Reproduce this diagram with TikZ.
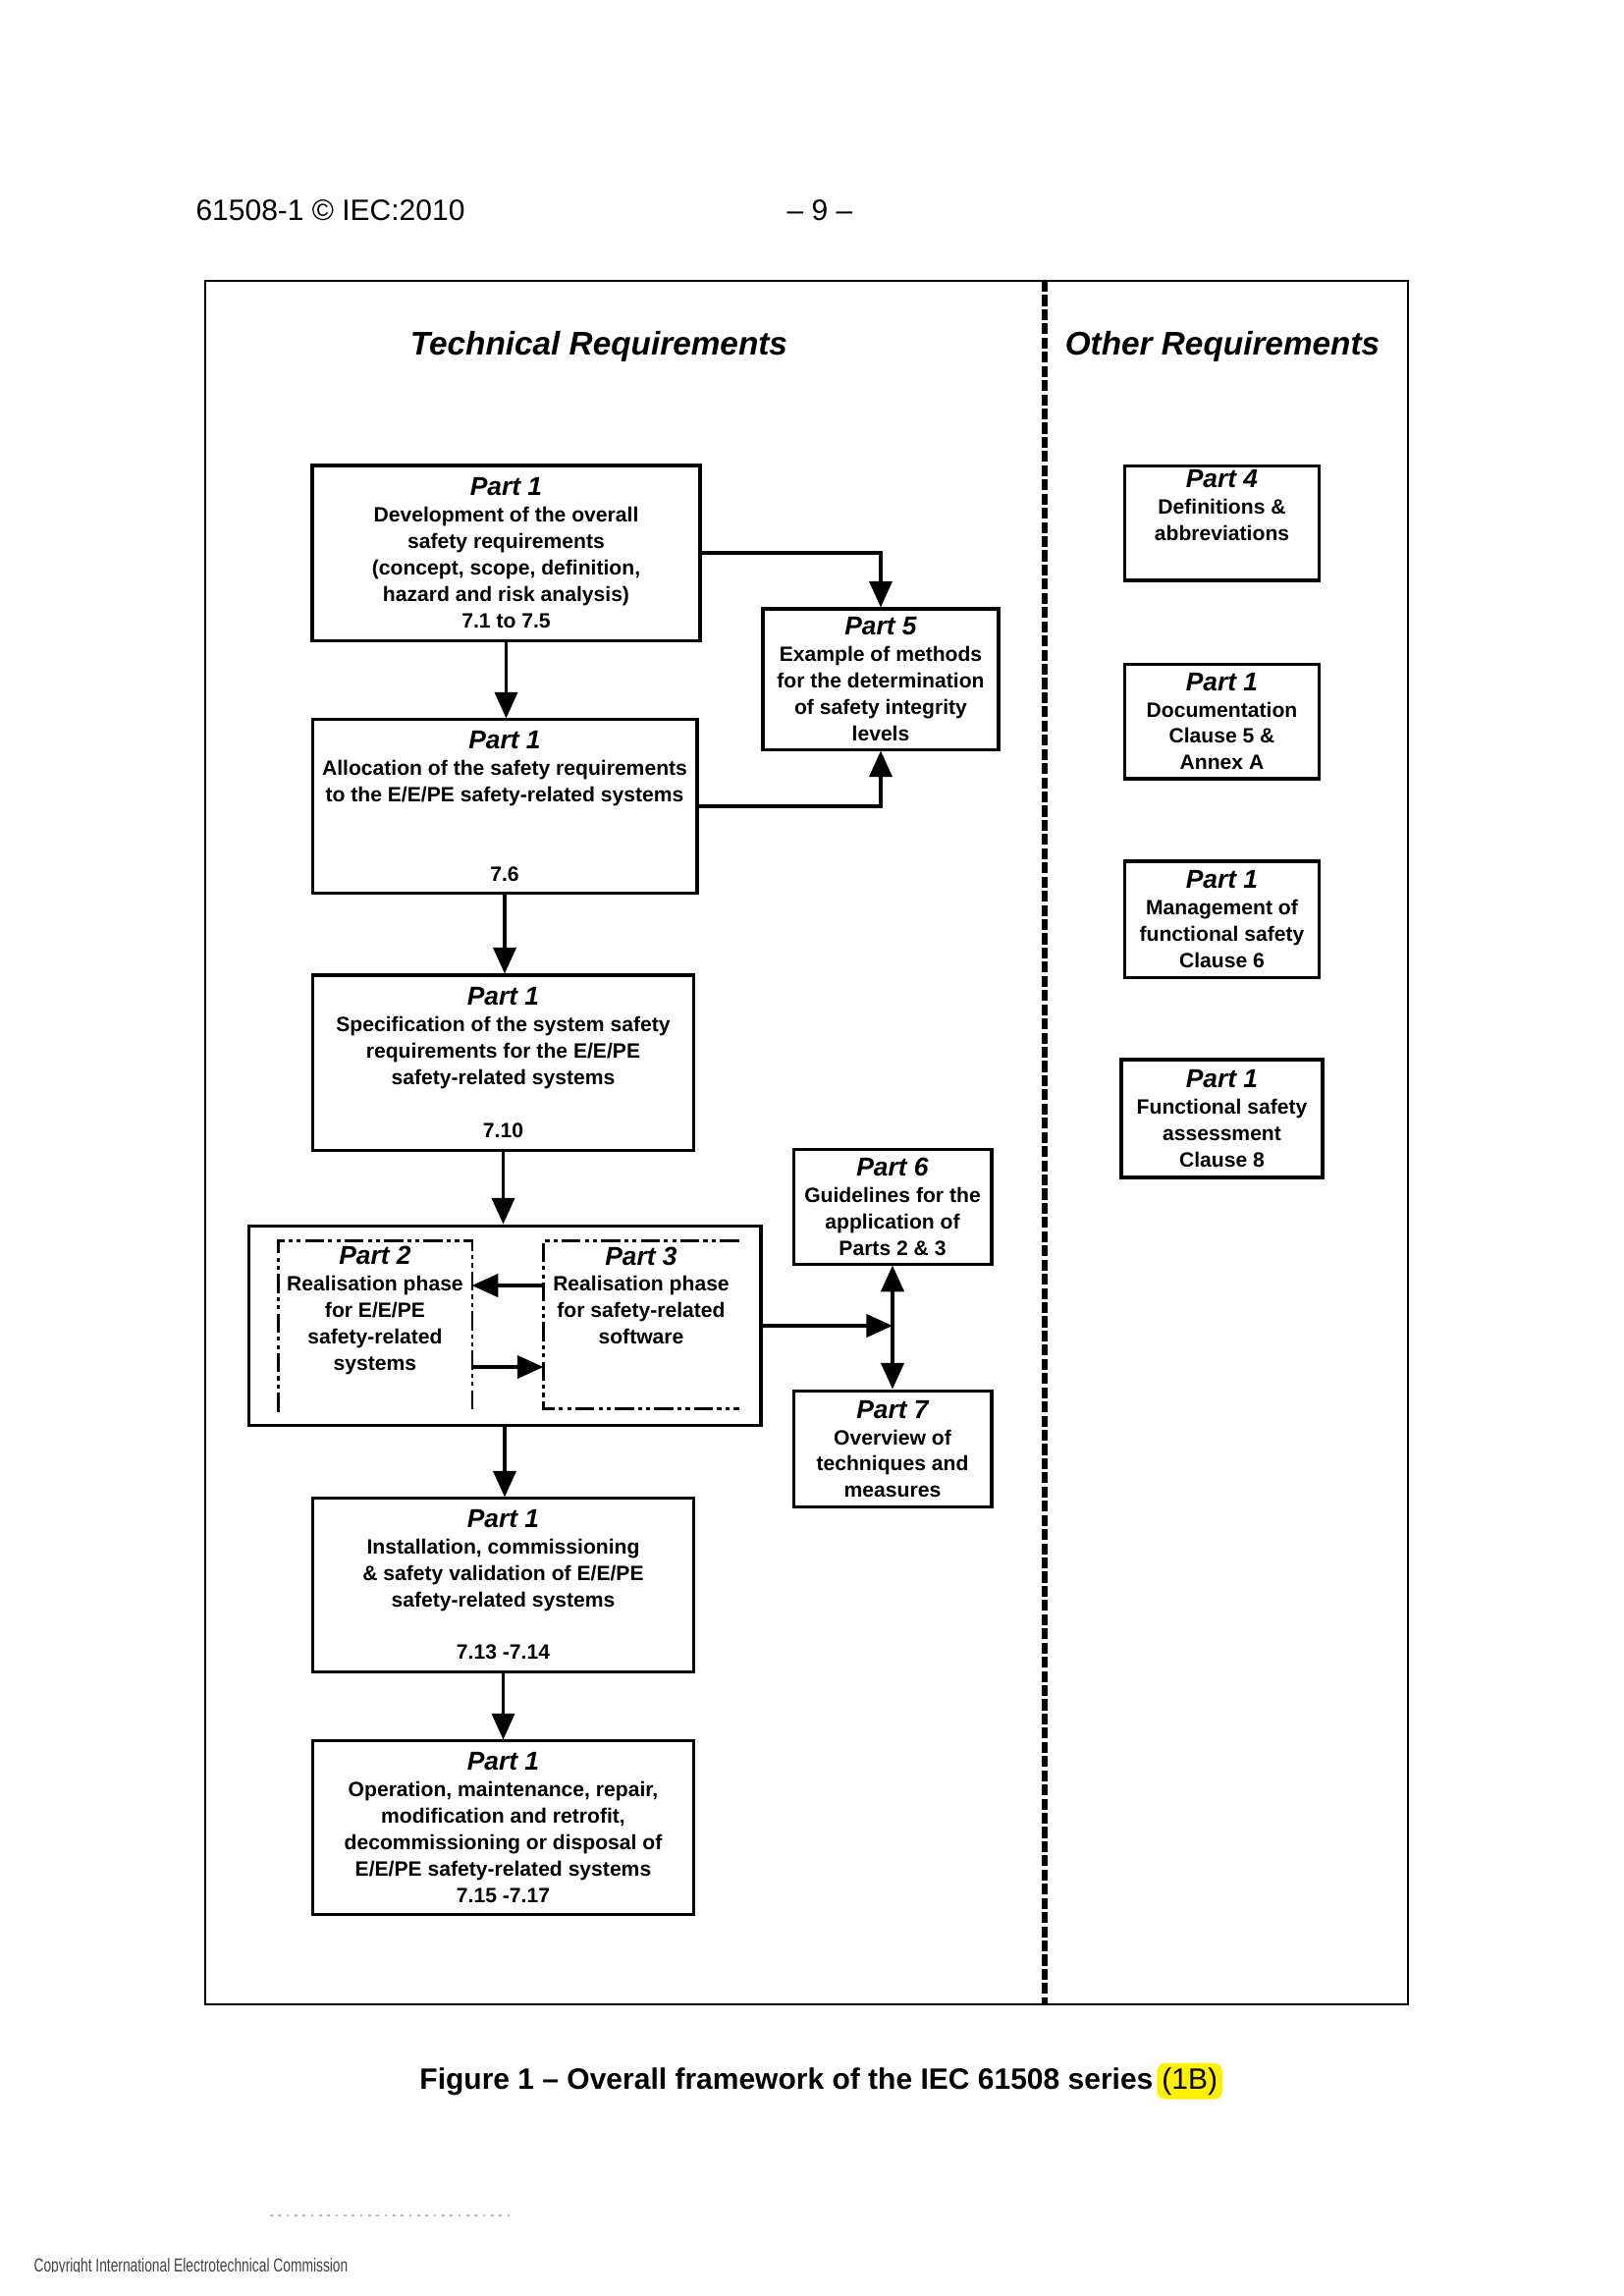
\documentclass[tikz,border=0pt]{standalone}
\usepackage{fontspec}
\setmainfont{Liberation Sans}
\usetikzlibrary{arrows.meta,calc}
\newcommand{\boxfont}{\fontsize{7.6}{9.65}\selectfont\bfseries}
\newcommand{\parthead}[1]{{\fontsize{9.5}{9.65}\selectfont\bfseries\itshape #1}}
\definecolor{hilite}{RGB}{255,240,0}
\begin{document}
\begin{tikzpicture}[x=0.36pt,y=-0.36pt,
  box/.style={draw, line width=1.1pt, align=center, inner sep=0pt, font=\boxfont},
  region/.style={inner sep=0pt},
  boxtext/.style={align=center, inner sep=0pt, font=\boxfont, anchor=north},
  conn/.style={line width=1.1pt, -{Triangle[width=8.4pt,length=9.6pt]}},
  conn2/.style={line width=1.1pt, {Triangle[width=8.4pt,length=9.6pt]}-{Triangle[width=8.4pt,length=9.6pt]}},
  dashdot/.style={line width=0.8pt, dash pattern=on 7pt off 1.5pt on 1.5pt off 1.5pt on 1.5pt off 1.5pt},
  sepline/.style={line width=2pt, dash pattern=on 4pt off 1.2pt},
  title/.style={font=\fontsize{12}{14}\selectfont\bfseries\itshape, anchor=base}]
\useasboundingbox (0,0) rectangle (1653,2338);

% header
\node[anchor=base west, font=\fontsize{10.8}{13}\selectfont, inner sep=0pt] (hdrL) at (199,224) {61508-1 © IEC:2010};
\node[anchor=base, font=\fontsize{10.8}{13}\selectfont, inner sep=0pt] (hdrC) at (835,224) {– 9 –};

% frame and separator
\draw[line width=1pt] (209,286) rectangle (1434,2041);
\coordinate (sepT) at (1064,286);
\coordinate (sepB) at (1064,2041);
\draw[sepline] (sepT) -- (sepB);

% titles
\node[title] (tTech) at (610,361) {Technical Requirements};
\node[title] (tOther) at (1245,361) {Other Requirements};

% technical boxes
\node[box, minimum width=142.2pt, minimum height=64.1pt] (p1a) at (515.5,563)
  {\parthead{Part 1}\\Development of the overall\\safety requirements\\(concept, scope, definition,\\hazard and risk analysis)\\7.1 to 7.5};
\node[box, minimum width=86.4pt, minimum height=51.5pt] (p5) at (897,691.5)
  {\parthead{Part 5}\\Example of methods\\for the determination\\of safety integrity\\levels};
\node[box, minimum width=141.1pt, minimum height=63.4pt] (p1b) at (514,821)
  {\parthead{Part 1}\\Allocation of the safety requirements\\to the E/E/PE safety-related systems\\[19.3pt]7.6};
\node[box, minimum width=140pt, minimum height=64.1pt] (p1c) at (512.5,1082)
  {\parthead{Part 1}\\Specification of the system safety\\requirements for the E/E/PE\\safety-related systems\\[9.65pt]7.10};
\node[draw, line width=1.1pt, inner sep=0pt, minimum width=187.9pt, minimum height=73.4pt] (real) at (514,1350) {};
\node[region, minimum width=70.6pt, minimum height=62.3pt] (p2) at (382,1350.5) {};
\node[region, minimum width=71.3pt, minimum height=61.2pt] (p3) at (653,1349) {};
\node[boxtext] (p2t) at ([yshift=-2pt]p2.north) {\parthead{Part 2}\\Realisation phase\\for E/E/PE\\safety-related\\systems};
\node[boxtext] (p3t) at ([yshift=-2pt]p3.north) {\parthead{Part 3}\\Realisation phase\\for safety-related\\software};
\draw[dashdot] (p2.south west) -- (p2.north west) -- (p2.north east) -- (p2.south east);
\draw[dashdot] (p3.north east) -- (p3.north west) -- (p3.south west) -- (p3.south east);

\node[box, minimum width=72.7pt, minimum height=41.8pt] (p6) at (909,1229)
  {\parthead{Part 6}\\Guidelines for the\\application of\\Parts 2 \& 3};
\node[box, minimum width=72.7pt, minimum height=42.8pt] (p7) at (909,1475.5)
  {\parthead{Part 7}\\Overview of\\techniques and\\measures};
\node[box, minimum width=140pt, minimum height=63.4pt] (p1d) at (512.5,1614)
  {\parthead{Part 1}\\Installation, commissioning\\\& safety validation of E/E/PE\\safety-related systems\\[9.65pt]7.13 -7.14};
\node[box, minimum width=140pt, minimum height=63.4pt] (p1e) at (512.5,1861)
  {\parthead{Part 1}\\Operation, maintenance, repair,\\modification and retrofit,\\decommissioning or disposal of\\E/E/PE safety-related systems\\7.15 -7.17};

% other requirements
\node[box, minimum width=71.6pt, minimum height=42.1pt] (p4) at (1244.5,532.5) {};
\node[boxtext] (p4t) at ([yshift=-2pt]p4.north) {\parthead{Part 4}\\Definitions \&\\abbreviations};
\node[box, minimum width=71.6pt, minimum height=42.1pt] (pdoc) at (1244.5,734.5)
  {\parthead{Part 1}\\Documentation\\Clause 5 \&\\Annex A};
\node[box, minimum width=71.6pt, minimum height=42.5pt] (pmgmt) at (1244.5,936)
  {\parthead{Part 1}\\Management of\\functional safety\\Clause 6};
\node[box, minimum width=73.8pt, minimum height=43.2pt] (pfsa) at (1244.5,1139)
  {\parthead{Part 1}\\Functional safety\\assessment\\Clause 8};

% connectors
\coordinate (yA) at (0,1309);
\coordinate (yB) at (0,1392);
\draw[conn] (p1a.south) -- (p1a.south |- p1b.north);
\draw[conn] (p1a.east) -| (p5.north);
\draw[conn] (p1b.east) -| (p5.south);
\draw[conn] (p1b.south) -- (p1b.south |- p1c.north);
\draw[conn] (p1c.south) -- (p1c.south |- real.north);
\draw[conn] (p3.west |- yA) -- (p2.east |- yA);
\draw[conn] (p2.east |- yB) -- (p3.west |- yB);
\draw[conn] (real.east) -- (real.east -| p6.south);
\draw[conn2] (p6.south) -- (p7.north);
\draw[conn] (real.south) -- (real.south |- p1d.north);
\draw[conn] (p1d.south) -- (p1d.south |- p1e.north);

% caption
\node[anchor=base east, inner sep=0pt, font=\fontsize{10.8}{13}\selectfont\bfseries] (cap) at (1175,2127)
  {Figure 1 – Overall framework of the IEC 61508 series};
\node[anchor=base west, fill=hilite, rounded corners=3pt, inner xsep=1.8pt, inner ysep=1.6pt,
  font=\fontsize{10.8}{13}\selectfont] (capb) at ([xshift=1pt]cap.base east) {(1B)};

% footer
\draw[gray!55, line width=0.8pt, dash pattern=on 1pt off 2pt] (275,2256) -- (523,2256);
\begin{scope}
  \clip (0,2250) rectangle (1653,2313);
  \node[anchor=base west, inner sep=0pt, font=\fontsize{6.9}{8}\selectfont, text=black!75] (copy) at (34,2313)
    {\scalebox{0.72}[1]{Copyright International Electrotechnical Commission}};
\end{scope}
\end{tikzpicture}
\end{document}
